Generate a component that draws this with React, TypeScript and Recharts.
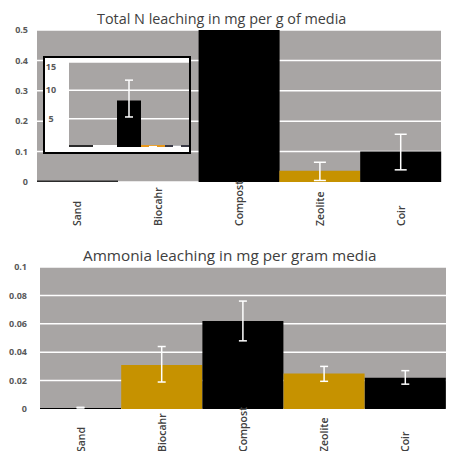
import { Bar, BarChart, CartesianGrid, Cell, ErrorBar, XAxis, YAxis } from "recharts";

const categories = ["Sand", "Biocahr", "Compost", "Zeolite", "Coir"];

// Total N leaching (mg/g)
const totalN = [0.005, 0, 8.2, 0.037, 0.1];
const totalNLow = [null, null, 5.3, 0.005, 0.04];
const totalNHigh = [null, null, 11.8, 0.065, 0.157];

// Ammonia leaching (mg/g)
const ammonia = [0.0007, 0.031, 0.062, 0.025, 0.022];
const ammoniaLow = [0.0007, 0.019, 0.048, 0.0195, 0.0175];
const ammoniaHigh = [0.0012, 0.044, 0.076, 0.03, 0.027];

const topTicks = [0, 0.1, 0.2, 0.3, 0.4, 0.5];
const insetTicks = [0, 5, 10, 15];
const bottomTicks = [0, 0.02, 0.04, 0.06, 0.08, 0.1];

const GOLD = "#c69200";
const BG = "#a8a5a4";
const topColors = ["#2b2b2b", GOLD, "#000000", GOLD, "#000000"];
const insetColors = ["#2b2b2b", "#ffffff", "#000000", "#e8981c", "#3a3a46"];
const bottomColors = ["#000000", GOLD, "#000000", GOLD, "#000000"];

const FONT = "'Open Sans', 'Noto Sans', sans-serif";

function build(vals: number[], lo: (number | null)[], hi: (number | null)[]) {
  return categories.map((name, i) => ({
    name,
    value: vals[i],
    err: lo[i] == null || hi[i] == null ? null : [vals[i] - (lo[i] as number), (hi[i] as number) - vals[i]],
  }));
}

const topData = build(totalN, totalNLow, totalNHigh);
const bottomData = build(ammonia, ammoniaLow, ammoniaHigh);

function makeTick(offset: number) {
  return (props: any) => {
    const { x, y, payload } = props;
    return (
      <text
        transform={`translate(${x + 4},${y + offset}) rotate(-90)`}
        textAnchor="start"
        fontSize={10.5}
        fontWeight={600}
        fontFamily={FONT}
        fill="#404040"
      >
        {payload.value}
      </text>
    );
  };
}

const yTickStyle = { fontSize: 9, fontWeight: 700, fill: "#595959", fontFamily: FONT };

const InsetTick = (props: any) => {
  const { y, payload } = props;
  return (
    <text x={6} y={y + 3} textAnchor="middle" fontSize={9} fontWeight={700} fill="#595959" fontFamily={FONT}>
      {payload.value}
    </text>
  );
};

export default function App() {
  return (
    <div style={{ position: "absolute", left: 0, top: 0, width: 449, height: 451, overflow: "hidden", background: "#fff" }}>
      <div style={{ position: "absolute", left: 97, top: 9, fontSize: 14.4, lineHeight: "20px", color: "#404040", fontFamily: FONT, whiteSpace: "nowrap" }}>
        Total N leaching in mg per g of media
      </div>
      <div style={{ position: "absolute", left: 0, top: 0 }}>
        <BarChart width={449} height={240} data={topData} margin={{ top: 30, right: 8, left: 0, bottom: 0 }} barCategoryGap={0}>
          <CartesianGrid vertical={false} stroke="#ffffff" strokeWidth={1.5} fill={BG} />
          <XAxis dataKey="name" interval={0} height={58} tickLine={false} axisLine={false} tickSize={0} tickMargin={0} tick={makeTick(44)} />
          <YAxis domain={[0, 0.5]} ticks={topTicks} allowDataOverflow width={37} tickLine={false} axisLine={false} tickSize={0} tickMargin={9} tick={yTickStyle} />
          <Bar dataKey="value" isAnimationActive={false}>
            {topData.map((_, i) => (
              <Cell key={i} fill={topColors[i]} />
            ))}
            <ErrorBar dataKey="err" direction="y" stroke="#ffffff" strokeWidth={1.5} width={6} />
          </Bar>
        </BarChart>
      </div>
      <div style={{ position: "absolute", left: 43, top: 56, width: 148, height: 98, border: "2px solid #000", boxSizing: "border-box", background: "#fff" }}>
        <BarChart width={144} height={94} data={topData} margin={{ top: 4, right: 0, left: 0, bottom: 5 }} barCategoryGap={0}>
          <CartesianGrid vertical={false} stroke="#ffffff" strokeWidth={1.5} fill={BG} />
          <XAxis dataKey="name" hide />
          <YAxis domain={[0, 15]} ticks={insetTicks} width={24} tickLine={false} axisLine={false} tick={InsetTick} />
          <Bar dataKey="value" isAnimationActive={false} minPointSize={2}>
            {topData.map((_, i) => (
              <Cell key={i} fill={insetColors[i]} />
            ))}
            <ErrorBar dataKey="err" direction="y" stroke="#ffffff" strokeWidth={1.5} width={4} />
          </Bar>
        </BarChart>
      </div>
      <div style={{ position: "absolute", left: 83, top: 245, fontSize: 15.3, lineHeight: "20px", color: "#404040", fontFamily: FONT, whiteSpace: "nowrap" }}>
        Ammonia leaching in mg per gram media
      </div>
      <div style={{ position: "absolute", left: 0, top: 240 }}>
        <BarChart width={449} height={225} data={bottomData} margin={{ top: 27, right: 3, left: 0, bottom: 0 }} barCategoryGap={0}>
          <CartesianGrid vertical={false} stroke="#ffffff" strokeWidth={1.5} fill={BG} />
          <XAxis dataKey="name" interval={0} height={56} tickLine={false} axisLine={false} tickSize={0} tickMargin={0} tick={makeTick(43)} />
          <YAxis domain={[0, 0.1]} ticks={bottomTicks} width={40} tickLine={false} axisLine={false} tickSize={0} tickMargin={13} tick={yTickStyle} />
          <Bar dataKey="value" isAnimationActive={false}>
            {bottomData.map((_, i) => (
              <Cell key={i} fill={bottomColors[i]} />
            ))}
            <ErrorBar dataKey="err" direction="y" stroke="#ffffff" strokeWidth={1.5} width={4} />
          </Bar>
        </BarChart>
      </div>
    </div>
  );
}
